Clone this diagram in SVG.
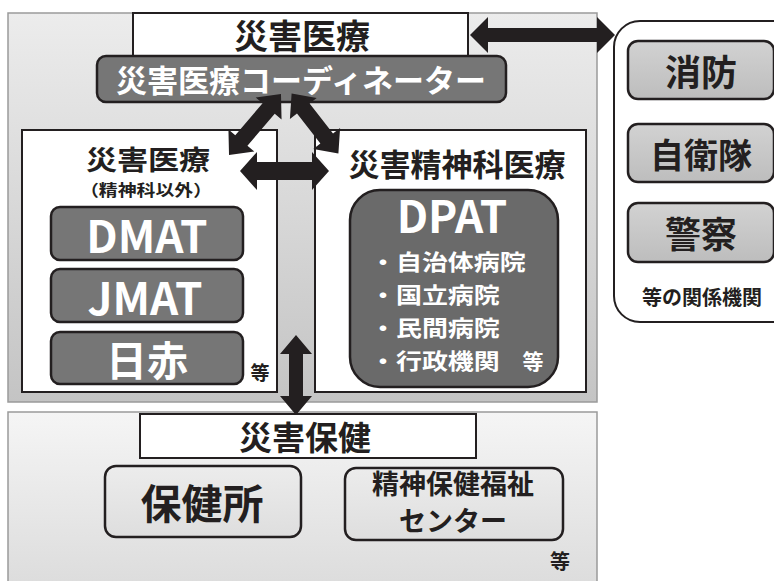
<svg xmlns="http://www.w3.org/2000/svg" width="774" height="581" viewBox="0 0 774 581">
<style>
text{font-family:"Noto Sans CJK JP","Noto Sans",sans-serif;font-weight:700;text-anchor:middle;dominant-baseline:central}
.wbox{fill:#fff;stroke:#231f20;stroke-width:2}
.dark{fill:#767676;stroke:#231f20;stroke-width:2.5}
.light{fill:url(#gl);stroke:#231f20;stroke-width:2.5}
.wt{fill:#fff}
.bt{fill:#231f20}
.arr{fill:#231f20}
.lt{text-anchor:start}
</style>
<defs>
<linearGradient id="gtop" x1="0" y1="0" x2="0" y2="1"><stop offset="0" stop-color="#ececec"/><stop offset="1" stop-color="#c4c4c4"/></linearGradient>
<linearGradient id="gbot" x1="0" y1="0" x2="0" y2="1"><stop offset="0" stop-color="#f5f5f5"/><stop offset="1" stop-color="#dcdcdc"/></linearGradient>
<linearGradient id="gl" x1="0" y1="0" x2="0" y2="1"><stop offset="0" stop-color="#d2d2d2"/><stop offset="1" stop-color="#bdbdbd"/></linearGradient>
<linearGradient id="gl2" x1="0" y1="0" x2="0" y2="1"><stop offset="0" stop-color="#ececec"/><stop offset="1" stop-color="#dedede"/></linearGradient>
</defs>

<g id="panel-top"><rect x="8" y="13" width="589" height="389" fill="url(#gtop)" stroke="#9a9a9a" stroke-width="1.5"/></g>
<g id="panel-bottom"><rect x="8" y="412" width="589" height="175" fill="url(#gbot)" stroke="#9a9a9a" stroke-width="1.5"/></g>

<g id="saigai-iryo"><rect class="wbox" x="133" y="13" width="335" height="44"/><text class="bt" x="302" y="34" font-size="34">災害医療</text></g>
<g id="coordinator"><rect class="dark" x="97" y="56" width="409" height="46" rx="9"/><text class="wt" x="301" y="78" font-size="31">災害医療コーディネーター</text></g>

<g id="left-box"><rect class="wbox" x="22" y="130" width="255" height="262"/>
<text class="bt" transform="translate(148,158) scale(1.15,1)" font-size="27">災害医療</text>
<text class="bt" transform="translate(146,189) scale(1.18,1)" font-size="16">（精神科以外）</text>
<text class="bt" x="260" y="371" font-size="19">等</text></g>
<g id="dmat"><rect class="dark" x="51" y="207" width="192" height="53" rx="9"/><text class="wt" x="147" y="234" font-size="44">DMAT</text></g>
<g id="jmat"><rect class="dark" x="51" y="269" width="192" height="53" rx="9"/><text class="wt" x="145" y="296" font-size="44">JMAT</text></g>
<g id="nisseki"><rect class="dark" x="51" y="332" width="192" height="52" rx="9"/><text class="wt" x="147" y="358" font-size="41">日赤</text></g>

<g id="right-box"><rect class="wbox" x="315" y="130" width="271" height="262"/>
<text class="bt" x="457" y="162" font-size="31">災害精神科医療</text></g>
<g id="dpat"><rect x="350" y="190" width="208" height="197" rx="30" fill="#6a6a6a" stroke="#231f20" stroke-width="2.5"/>
<text class="wt" x="452" y="214" font-size="44">DPAT</text>
<text class="wt lt" transform="translate(370,260) scale(1.18,1)" font-size="22">・自治体病院</text>
<text class="wt lt" transform="translate(370,293) scale(1.18,1)" font-size="22">・国立病院</text>
<text class="wt lt" transform="translate(370,326) scale(1.18,1)" font-size="22">・民間病院</text>
<text class="wt lt" transform="translate(370,359) scale(1.18,1)" font-size="22">・行政機関</text>
<text class="wt" x="533" y="360" font-size="21">等</text></g>

<g id="related"><rect class="wbox" x="614" y="21" width="200" height="301" rx="26"/>
<text class="bt" x="702" y="296" font-size="20">等の関係機関</text></g>
<g id="shobo"><rect class="light" x="628" y="41" width="146" height="58" rx="10"/><text class="bt" x="701" y="70" font-size="36">消防</text></g>
<g id="jieitai"><rect class="light" x="628" y="124" width="146" height="58" rx="10"/><text class="bt" x="701" y="153" font-size="34">自衛隊</text></g>
<g id="keisatsu"><rect class="light" x="628" y="203" width="146" height="59" rx="10"/><text class="bt" x="701" y="232" font-size="36">警察</text></g>

<g id="saigai-hoken"><rect class="wbox" x="140" y="414" width="336" height="44"/><text class="bt" x="305" y="436" font-size="33">災害保健</text></g>
<g id="hokenjo"><rect x="105" y="466" width="196" height="71" rx="11" fill="url(#gl2)" stroke="#231f20" stroke-width="2.5"/><text class="bt" x="202" y="501" font-size="41">保健所</text></g>
<g id="seishin-center"><rect x="345" y="468" width="218" height="72" rx="11" fill="url(#gl2)" stroke="#231f20" stroke-width="2.5"/>
<text class="bt" x="453" y="482" font-size="27">精神保健福祉</text>
<text class="bt" x="453" y="519" font-size="27">センター</text></g>
<g id="hoken-etc"><text class="bt" x="560" y="560" font-size="20">等</text></g>

<g id="connectors">
<polygon class="arr" points="470,35 488,17 488,28 597,28 597,17 615,35 597,53 597,42 488,42 488,53"/>
<polygon class="arr" transform="translate(255,124.5) rotate(-49.5)" points="-40,0 -21,-17 -21,-8 21,-8 21,-17 40,0 21,17 21,8 -21,8 -21,17"/>
<polygon class="arr" transform="translate(315,123.5) rotate(52)" points="-38,0 -19,-17 -19,-8 19,-8 19,-17 38,0 19,17 19,8 -19,8 -19,17"/>
<polygon class="arr" points="240,171 257,152 257,162 312,162 312,152 329,171 312,190 312,180 257,180 257,190"/>
<polygon class="arr" points="296,335 312,354 303,354 303,396 312,396 296,415 280,396 289,396 289,354 280,354"/>
</g>
</svg>
